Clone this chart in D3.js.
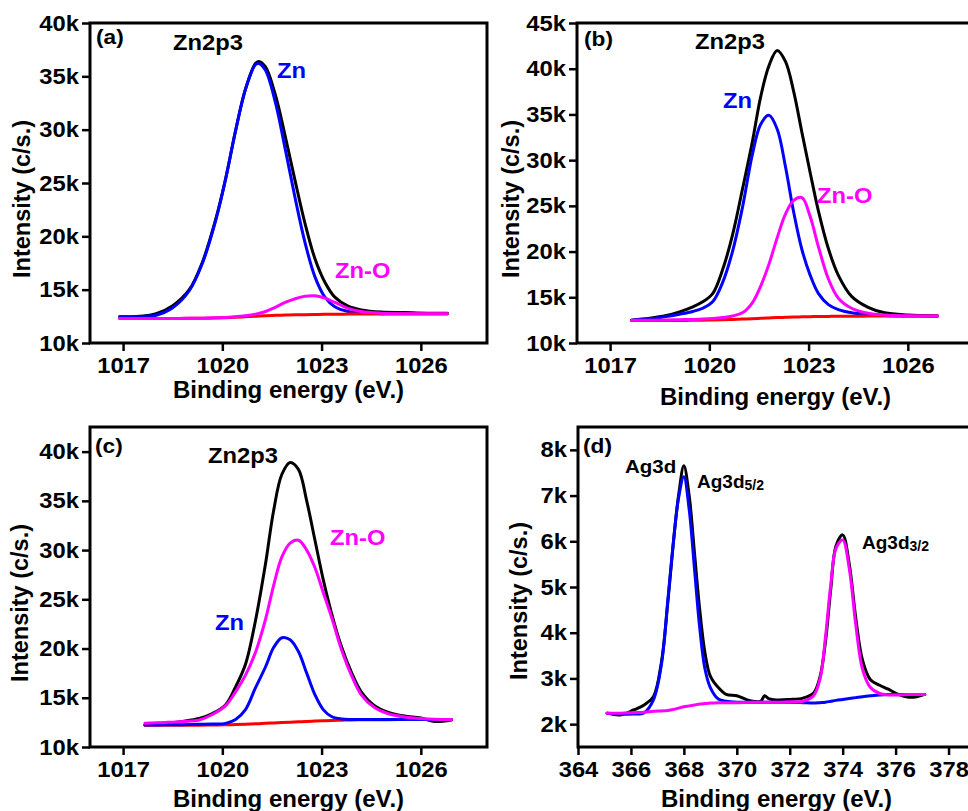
<!DOCTYPE html>
<html><head><meta charset="utf-8">
<script src="https://cdn.jsdelivr.net/npm/d3@7"></script>
<style>
body{margin:0;background:#fff;overflow:hidden;}
text{font-family:"Liberation Sans",Arial,Helvetica,sans-serif;font-weight:bold;}
</style></head><body>
<svg id="chart" width="968" height="811"></svg>
<script>
// ---------- DATA (intensities in k counts/s) ----------
// Panel (a)
const aEnergy = [1016.9,1017.5,1018.0,1018.5,1019.0,1019.4,1019.8,1020.1,1020.4,1020.7,1021.0,1021.1,1021.3,1021.6,1021.9,1022.2,1022.5,1022.8,1023.1,1023.4,1023.8,1024.2,1024.8,1025.5,1026.2,1026.8];
const aEnvelope = [12.45,12.5,12.75,13.5,15.0,17.6,21.6,25.4,29.9,33.8,36.2,36.4,35.9,33.3,29.4,25.2,21.2,17.9,15.7,14.3,13.45,13.1,12.9,12.85,12.8,12.8];
const aZn = [12.45,12.47,12.6,13.3,14.9,17.5,21.5,25.4,29.9,33.8,36.1,36.2,35.6,32.6,28.2,23.6,19.4,16.2,14.3,13.4,12.95,12.8,12.75,12.75,12.75,12.75];
const aZnO = [12.3,12.3,12.3,12.3,12.32,12.33,12.36,12.4,12.45,12.55,12.7,12.78,12.95,13.35,13.8,14.15,14.38,14.42,14.2,13.8,13.25,12.95,12.8,12.75,12.75,12.75];
const aBackground = [12.3,12.3,12.3,12.3,12.31,12.32,12.34,12.37,12.41,12.46,12.5,12.52,12.55,12.59,12.62,12.64,12.66,12.68,12.69,12.7,12.71,12.72,12.73,12.74,12.75,12.75];
// Panel (b)
const bEnergy = [1017.65,1018.2,1018.7,1019.1,1019.5,1019.8,1020.1,1020.4,1020.7,1021.0,1021.3,1021.55,1021.8,1022.05,1022.3,1022.55,1022.8,1023.05,1023.3,1023.6,1023.9,1024.3,1024.8,1025.3,1026.0,1026.9];
const bEnvelope = [12.5,12.7,13.0,13.4,13.95,14.5,15.4,18.0,21.8,26.8,32.0,36.9,40.3,42.0,40.8,37.5,33.0,28.6,24.4,20.3,17.4,15.1,13.9,13.3,13.05,12.95];
const bZn = [12.5,12.65,12.9,13.15,13.45,13.8,14.5,16.6,20.0,24.8,30.6,33.9,34.9,33.4,29.3,24.3,20.2,17.4,15.4,14.2,13.65,13.3,13.1,13.0,12.95,12.95];
const bZnO = [12.5,12.5,12.52,12.55,12.58,12.62,12.68,12.78,12.95,13.3,14.4,16.2,18.6,21.5,24.1,25.6,25.9,23.8,20.5,17.0,14.9,13.8,13.25,13.05,12.97,12.95];
const bBackground = [12.45,12.45,12.46,12.47,12.48,12.5,12.52,12.55,12.58,12.62,12.66,12.7,12.74,12.78,12.81,12.84,12.86,12.88,12.9,12.91,12.92,12.93,12.94,12.95,12.95,12.95];
// Panel (c)
const cEnergy = [1017.66,1018.3,1018.8,1019.3,1019.7,1020.1,1020.4,1020.7,1021.0,1021.3,1021.55,1021.8,1022.05,1022.3,1022.55,1022.8,1023.05,1023.3,1023.6,1023.9,1024.2,1024.6,1025.0,1025.5,1026.0,1026.4,1026.93];
const cEnvelope = [12.24,12.4,12.6,12.9,13.4,14.3,16.1,18.4,22.8,28.5,34.0,37.7,38.9,38.2,35.0,31.0,27.0,23.6,20.2,17.6,15.6,14.2,13.55,13.15,12.95,12.6,12.75];
const cZn = [12.24,12.25,12.27,12.3,12.33,12.4,12.8,13.8,16.0,18.1,20.1,21.1,20.9,19.7,17.5,15.3,13.8,13.1,12.85,12.8,12.8,12.8,12.8,12.8,12.8,12.8,12.8];
const cZnO = [12.4,12.5,12.6,12.75,13.3,14.2,15.6,17.3,19.6,22.9,26.4,29.3,30.7,31.0,30.0,28.2,25.7,23.2,19.9,17.3,15.3,14.0,13.4,13.05,12.9,12.82,12.8];
const cBackground = [12.22,12.22,12.22,12.22,12.23,12.25,12.28,12.32,12.36,12.4,12.44,12.48,12.52,12.56,12.6,12.63,12.66,12.69,12.72,12.75,12.76,12.77,12.78,12.79,12.8,12.8,12.8];
// Panel (d)
const dEnergy = [365.1,365.6,366.1,366.5,366.85,367.15,367.4,367.6,367.8,368.0,368.2,368.4,368.6,368.8,369.0,369.3,369.6,370.0,370.5,370.9,371.05,371.2,371.5,372.0,372.5,372.9,373.15,373.35,373.55,373.75,374.0,374.25,374.5,374.75,375.05,375.4,375.7,376.1,376.5,376.8,377.1];
const dEnvelope = [2.24,2.2,2.31,2.42,2.6,3.35,4.7,5.95,7.0,7.65,7.0,5.75,4.5,3.55,3.05,2.8,2.65,2.62,2.51,2.5,2.62,2.56,2.53,2.54,2.57,2.68,3.05,3.8,4.95,5.9,6.14,5.5,4.3,3.4,2.97,2.85,2.77,2.65,2.59,2.6,2.65];
const dAg52 = [2.24,2.22,2.22,2.25,2.53,3.3,4.75,5.96,6.95,7.41,6.7,5.4,4.1,3.2,2.8,2.55,2.5,2.48,2.48,2.48,2.48,2.48,2.48,2.48,2.47,2.46,2.47,2.48,2.5,2.52,2.54,2.56,2.58,2.6,2.62,2.64,2.65,2.65,2.65,2.65,2.65];
const dAg32 = [2.24,2.24,2.25,2.26,2.28,2.29,2.3,2.32,2.35,2.38,2.4,2.42,2.44,2.45,2.46,2.47,2.47,2.47,2.48,2.48,2.48,2.48,2.48,2.49,2.5,2.62,3.0,3.9,5.05,5.85,6.03,5.4,4.15,3.2,2.8,2.67,2.64,2.64,2.65,2.65,2.65];

// Tick values
const znXTicks = [1017,1020,1023,1026];
const agXTicks = [364,366,368,370,372,374,376,378];
const aYTicks = [10,15,20,25,30,35,40];
const bYTicks = [10,15,20,25,30,35,40,45];
const cYTicks = [10,15,20,25,30,35,40];
const dYTicks = [2,3,4,5,6,7,8];

// ---------- LAYOUT ----------
const COL = {black:"#000000", blue:"#0000ff", red:"#ff0000", magenta:"#ff00ff"};
const STRETCH = 1.08;
const panels = [
  {left:90, top:23, w:397, h:320, xDom:[1016,1028], yDom:[10,40], xTicks:znXTicks, yTicks:aYTicks,
   x:aEnergy, series:[[aEnvelope,COL.black],[aZn,COL.blue],[aBackground,COL.red],[aZnO,COL.magenta]],
   xTitleY:398, yTitle:[30,199],
   labels:[["(a)",96,44,COL.black,21],["Zn2p3",173,50,COL.black,22],["Zn",277,78,COL.blue,22],["Zn-O",335,278,COL.magenta,22]]},
  {left:577, top:23, w:397, h:320, xDom:[1016,1028], yDom:[10,45], xTicks:znXTicks, yTicks:bYTicks,
   x:bEnergy, series:[[bEnvelope,COL.black],[bZn,COL.blue],[bBackground,COL.red],[bZnO,COL.magenta]],
   xTitleY:405, yTitle:[519,199],
   labels:[["(b)",584,46,COL.black,21],["Zn2p3",695,49,COL.black,22],["Zn",723,108,COL.blue,22],["Zn-O",817,203,COL.magenta,22]]},
  {left:90, top:427, w:397, h:320, xDom:[1016,1028], yDom:[10,42.5], xTicks:znXTicks, yTicks:cYTicks,
   x:cEnergy, series:[[cEnvelope,COL.black],[cBackground,COL.red],[cZn,COL.blue],[cZnO,COL.magenta]],
   xTitleY:807, yTitle:[28,603],
   labels:[["(c)",95,453,COL.black,21],["Zn2p3",208,463,COL.black,22],["Zn-O",330,545,COL.magenta,22],["Zn",215,630,COL.blue,22]]},
  {left:578, top:427, w:397, h:320, xDom:[364,379], yDom:[1.5,8.5], xTicks:agXTicks, yTicks:dYTicks,
   x:dEnergy, series:[[dEnvelope,COL.black],[dAg52,COL.blue],[dAg32,COL.magenta]],
   xTitleY:807, yTitle:[527,601],
   labels:[["(d)",583,453,COL.black,21],["Ag3d",625,473,COL.black,19]],
   subLabels:[["Ag3d","5/2",697,488],["Ag3d","3/2",862,549]]}
];

const svg = d3.select("#chart");
svg.append("rect").attr("width",968).attr("height",811).attr("fill","#fff");

panels.forEach(p => {
  const x = d3.scaleLinear().domain(p.xDom).range([p.left, p.left + p.w]);
  const y = d3.scaleLinear().domain(p.yDom).range([p.top + p.h, p.top]);
  const g = svg.append("g");

  p.series.forEach(([vals,color]) => {
    const line = d3.line().x((d,i)=>x(p.x[i])).y(d=>y(d)).curve(d3.curveCatmullRom.alpha(0.5));
    g.append("path").datum(vals).attr("d", line)
      .attr("fill","none").attr("stroke",color).attr("stroke-width",3)
      .attr("stroke-linejoin","round").attr("stroke-linecap","round");
  });

  g.append("rect").attr("x",p.left).attr("y",p.top).attr("width",p.w).attr("height",p.h)
    .attr("fill","none").attr("stroke","#000").attr("stroke-width",3);

  const xa = g.append("g").attr("transform",`translate(0,${p.top+p.h})`)
    .call(d3.axisBottom(x).tickValues(p.xTicks).tickSize(8).tickPadding(6).tickFormat(d3.format("d")));
  const ya = g.append("g").attr("transform",`translate(${p.left},0)`)
    .call(d3.axisLeft(y).tickValues(p.yTicks).tickSize(8).tickPadding(3).tickFormat(d=>d+"k"));
  [xa,ya].forEach(a=>{
    a.select(".domain").remove();
    a.selectAll(".tick line").attr("stroke","#000").attr("stroke-width",2.5);
    a.selectAll(".tick text").attr("fill","#000").classed("wide",true).style("font-size","22px")
      .style("font-family",'"Liberation Sans",Arial,sans-serif').style("font-weight","bold");
  });

  g.append("text").attr("x",p.left+p.w/2).attr("y",p.xTitleY).attr("text-anchor","middle")
    .style("font-size","24px").text("Binding energy (eV.)");
  g.append("text").attr("transform",`translate(${p.yTitle[0]},${p.yTitle[1]}) rotate(-90)`)
    .attr("text-anchor","middle").style("font-size","23.5px").text("Intensity (c/s.)");

  p.labels.forEach(([t,lx,ly,c,fs])=>{
    g.append("text").attr("x",lx).attr("y",ly).attr("fill",c).classed("wide",true)
      .style("font-size",fs+"px").text(t);
  });
  (p.subLabels||[]).forEach(([t,s,lx,ly])=>{
    const tx = g.append("text").attr("x",lx).attr("y",ly).style("font-size","19px");
    tx.append("tspan").text(t);
    tx.append("tspan").attr("dy",2).style("font-size","14px").text(s);
  });
});

// widen tick labels and annotations slightly to match the reference's wider lettering
svg.selectAll("text.wide").each(function(){
  const L = this.getComputedTextLength();
  d3.select(this).attr("textLength", L*STRETCH).attr("lengthAdjust","spacingAndGlyphs");
});
</script>
</body></html>
